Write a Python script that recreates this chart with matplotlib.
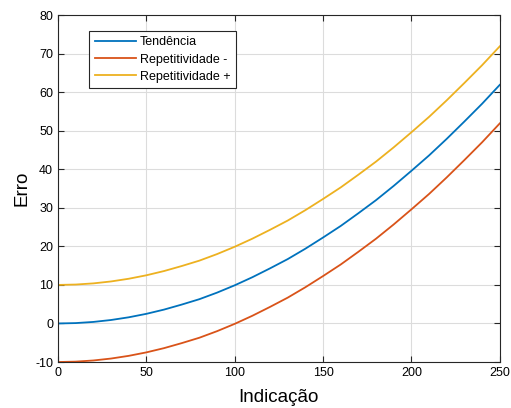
import matplotlib.pyplot as plt
import numpy as np

plt.rcParams['font.family'] = ['Liberation Sans', 'DejaVu Sans']
plt.rcParams['axes.unicode_minus'] = False

# valores
indicacao = [0, 10, 20, 30, 40, 50, 60, 70, 80, 90, 100, 110, 120, 130, 140,
             150, 160, 170, 180, 190, 200, 210, 220, 230, 240, 250]
tendencia = [0.0, 0.1, 0.4, 0.9, 1.6, 2.5, 3.6, 4.9, 6.3, 8.0, 9.9, 12.0, 14.3,
             16.7, 19.4, 22.3, 25.3, 28.6, 32.0, 35.7, 39.6, 43.6, 47.9, 52.4,
             57.0, 61.9]
repet_menos = [-10.0, -9.9, -9.6, -9.1, -8.4, -7.5, -6.4, -5.1, -3.7, -2.0, -0.1,
               2.0, 4.3, 6.7, 9.4, 12.3, 15.3, 18.6, 22.0, 25.7, 29.6, 33.6,
               37.9, 42.4, 47.0, 51.9]
repet_mais = [10.0, 10.1, 10.4, 10.9, 11.6, 12.5, 13.6, 14.9, 16.3, 18.0, 19.9,
              22.0, 24.3, 26.7, 29.4, 32.3, 35.3, 38.6, 42.0, 45.7, 49.6, 53.6,
              57.9, 62.4, 67.0, 71.9]

fig = plt.figure(figsize=(5.11, 4.08), dpi=100)
ax = fig.add_axes([0.1135, 0.1127, 0.8645, 0.8503])

ax.plot(indicacao, tendencia, color=(0, 0.447, 0.741), lw=1.3, label='Tendência')
ax.plot(indicacao, repet_menos, color=(0.85, 0.325, 0.098), lw=1.3, label='Repetitividade -')
ax.plot(indicacao, repet_mais, color=(0.929, 0.694, 0.125), lw=1.3, label='Repetitividade +')

ax.set_xlim(0, 250)
ax.set_ylim(-10, 80)
ax.set_xticks(np.arange(0, 251, 50))
ax.set_yticks(np.arange(-10, 81, 10))
ax.grid(True, color='#dcdcdc', lw=0.8)
ax.set_axisbelow(True)
ax.tick_params(direction='in', top=True, right=True, labelsize=9, length=4, color='#262626')
for s in ax.spines.values():
    s.set_color('#262626')
    s.set_linewidth(0.8)

ax.set_xlabel('Indicação', fontsize=13.5, labelpad=7)
ax.set_ylabel('Erro', fontsize=13.5, labelpad=3)

leg = ax.legend(loc='upper left', bbox_to_anchor=(0.07, 0.955), borderaxespad=0,
                fontsize=9, fancybox=False, framealpha=1, edgecolor='#262626',
                handlelength=3.3, handletextpad=0.3, labelspacing=0.42, borderpad=0.45)
leg.get_frame().set_linewidth(0.8)

fig.savefig('out.png', dpi=100)
